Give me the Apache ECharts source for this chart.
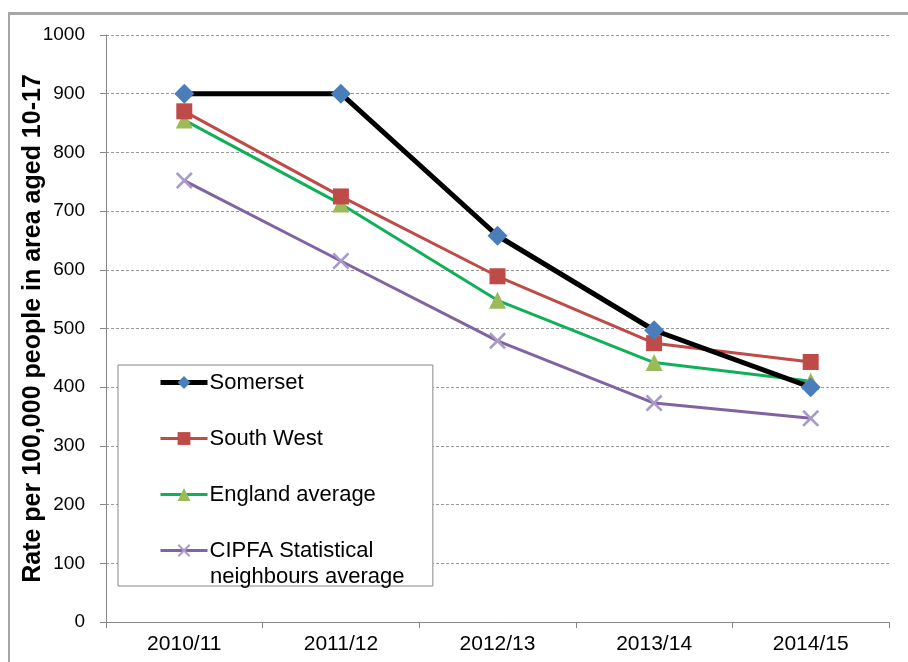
<!DOCTYPE html>
<html>
<head>
<meta charset="utf-8">
<script src="https://cdn.jsdelivr.net/npm/echarts@6/dist/echarts.min.js"></script>
<style>
html,body{margin:0;padding:0;background:#fff;}
#frame{position:absolute;left:8px;top:12px;width:920px;height:700px;border-top:3px solid #a6a6a6;border-left:2px solid #a6a6a6;}
#chart{position:absolute;left:0;top:0;width:908px;height:662px;}
</style>
</head>
<body>
<div id="frame"></div>
<div id="chart"></div>
<script>
const categories = ['2010/11','2011/12','2012/13','2013/14','2014/15'];
const somerset = [900, 900, 658, 497, 400];
const southWest = [870, 725, 589, 475, 443];
const england = [855, 712, 548, 442, 410];
const cipfa = [752, 615, 479, 373, 347];
const yTicks = {min:0, max:1000, interval:100};
const seriesNames = ['Somerset','South West','England average','CIPFA Statistical\nneighbours average'];

const font = 'Liberation Sans, Arial, sans-serif';
const chart = echarts.init(document.getElementById('chart'));
const xPath = 'path://M0,1.1L1.1,0L5,3.9L8.9,0L10,1.1L6.1,5L10,8.9L8.9,10L5,6.1L1.1,10L0,8.9L3.9,5Z';
chart.setOption({
  animation:false,
  backgroundColor:'transparent',
  grid:{left:106, right:19, top:35, bottom:40},
  legend:{
    orient:'vertical', left:118, top:365,
    padding:[4,57,22,40],
    backgroundColor:'#fff', borderColor:'#888', borderWidth:1,
    itemWidth:47, itemHeight:16, itemGap:29,
    formatter:n=>n.split('\n')[0],
    textStyle:{fontFamily:font, fontSize:22, color:'#000', lineHeight:27, padding:[0,0,0,-3]},
    data:[
      {name:seriesNames[0], lineStyle:{width:5}},
      {name:seriesNames[1], lineStyle:{width:3}},
      {name:seriesNames[2], lineStyle:{width:3}},
      {name:seriesNames[3], lineStyle:{width:3}}
    ]
  },
  graphic:[{
    type:'text', left:210, top:566, z:100,
    style:{text:seriesNames[3].split('\n')[1], font:'22px Liberation Sans, Arial, sans-serif', fill:'#000'}
  }],
  xAxis:{
    type:'category', data:categories, boundaryGap:true,
    axisLine:{lineStyle:{color:'#888', width:1}},
    axisTick:{show:true, length:6, lineStyle:{color:'#888'}},
    axisLabel:{fontFamily:font, fontSize:21, color:'#000', margin:12},
    splitLine:{show:false}
  },
  yAxis:{
    type:'value', min:yTicks.min, max:yTicks.max, interval:yTicks.interval,
    name:'Rate per 100,000 people in area aged 10-17',
    nameLocation:'middle', nameGap:60, nameMoveOverlap:false,
    nameTextStyle:{fontFamily:font, fontSize:25, fontWeight:'bold', color:'#000'},
    axisLine:{show:true, lineStyle:{color:'#888'}},
    axisTick:{show:true, length:6, lineStyle:{color:'#888'}},
    axisLabel:{fontFamily:font, fontSize:19, color:'#000', margin:21, formatter:v=>String(v)},
    splitLine:{show:true, lineStyle:{color:'#999', type:[3,2], width:1}}
  },
  series:[
    {name:seriesNames[0], type:'line', data:somerset, symbol:'diamond', symbolSize:20,
     lineStyle:{color:'#000', width:5}, itemStyle:{color:'#4a7ebb'}, z:5},
    {name:seriesNames[1], type:'line', data:southWest, symbol:'rect', symbolSize:16,
     lineStyle:{color:'#be4b48', width:3}, itemStyle:{color:'#be4b48'}, z:4},
    {name:seriesNames[2], type:'line', data:england, symbol:'triangle', symbolSize:17,
     lineStyle:{color:'#10b05a', width:3}, itemStyle:{color:'#9bbb59'}, z:3},
    {name:seriesNames[3], type:'line', data:cipfa, symbol:xPath, symbolSize:17,
     lineStyle:{color:'#8064a2', width:3}, itemStyle:{color:'#a99bc9'}, z:2}
  ]
});
</script>
</body>
</html>
